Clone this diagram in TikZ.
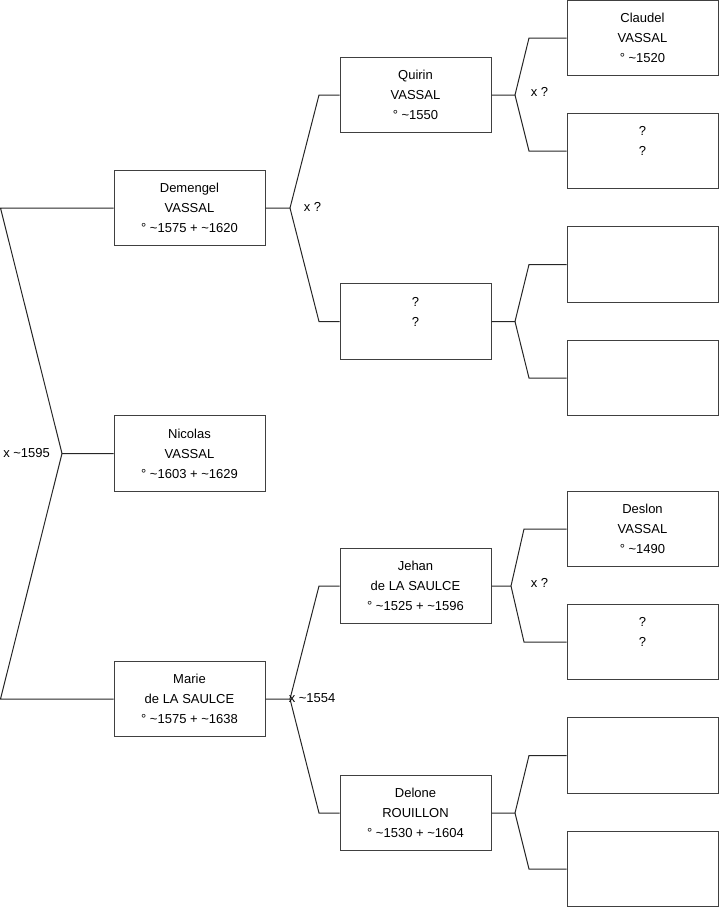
\documentclass[tikz,border=0pt]{standalone}
\usepackage{fontspec}
\setmainfont{Liberation Sans}
\begin{document}
\begin{tikzpicture}[x=0.75pt,y=-0.75pt,
  person/.style={draw=black!75,line width=0.75pt,rectangle,minimum width=113.25pt,minimum height=56.6pt,inner sep=0pt,align=center,font=\fontsize{9.75}{15}\selectfont},
  link/.style={draw=black!85,line width=0.75pt},
  union/.style={font=\fontsize{9.75}{11}\selectfont,inner sep=0pt}]
\useasboundingbox (0,0) rectangle (719,908);
% level 1
\node[person] (nic) at (189.5,453.5) {Nicolas\\VASSAL\\° \textasciitilde1603 + \textasciitilde1629};
% level 2
\node[person] (dem) at (189.5,208) {Demengel\\VASSAL\\° \textasciitilde1575 + \textasciitilde1620};
\node[person] (mar) at (189.5,699) {Marie\\de LA SAULCE\\° \textasciitilde1575 + \textasciitilde1638};
% level 3
\node[person] (qui) at (415.5,95) {Quirin\\VASSAL\\° \textasciitilde1550};
\node[person] (unk) at (415.5,321.5) {?\\?\\\mbox{}};
\node[person] (jeh) at (415.5,586) {Jehan\\de LA SAULCE\\° \textasciitilde1525 + \textasciitilde1596};
\node[person] (del) at (415.5,813) {Delone\\ROUILLON\\° \textasciitilde1530 + \textasciitilde1604};
% level 4
\node[person] (cla) at (642.5,38) {Claudel\\VASSAL\\° \textasciitilde1520};
\node[person] (ua) at (642.5,151) {?\\?\\\mbox{}};
\node[person] (ub) at (642.5,264.5) {};
\node[person] (uc) at (642.5,378) {};
\node[person] (des) at (642.5,529) {Deslon\\VASSAL\\° \textasciitilde1490};
\node[person] (ud) at (642.5,642) {?\\?\\\mbox{}};
\node[person] (ue) at (642.5,755.5) {};
\node[person] (uf) at (642.5,869) {};
% fork points
\coordinate (f1) at (62,453.5);
\coordinate (f1a) at (0.5,208);
\coordinate (f1b) at (0.5,699);
\coordinate (f2) at (290,208);
\coordinate (f2a) at (319,95);
\coordinate (f2b) at (319,321.5);
\coordinate (f3) at (290,699);
\coordinate (f3a) at (319,586);
\coordinate (f3b) at (319,813);
\coordinate (f4) at (515,95);
\coordinate (f4a) at (529,38);
\coordinate (f4b) at (529,151);
\coordinate (f5) at (515,321.5);
\coordinate (f5a) at (529,264.5);
\coordinate (f5b) at (529,378);
\coordinate (f6) at (511,586);
\coordinate (f6a) at (524,529);
\coordinate (f6b) at (524,642);
\coordinate (f7) at (515,813);
\coordinate (f7a) at (529,755.5);
\coordinate (f7b) at (529,869);
% connectors
\draw[link] (nic.west) -- (f1) -- (f1a) -- (dem.west);
\draw[link] (f1) -- (f1b) -- (mar.west);
\draw[link] (dem.east) -- (f2) -- (f2a) -- (qui.west);
\draw[link] (f2) -- (f2b) -- (unk.west);
\draw[link] (mar.east) -- (f3) -- (f3a) -- (jeh.west);
\draw[link] (f3) -- (f3b) -- (del.west);
\draw[link] (qui.east) -- (f4) -- (f4a) -- (cla.west);
\draw[link] (f4) -- (f4b) -- (ua.west);
\draw[link] (unk.east) -- (f5) -- (f5a) -- (ub.west);
\draw[link] (f5) -- (f5b) -- (uc.west);
\draw[link] (jeh.east) -- (f6) -- (f6a) -- (des.west);
\draw[link] (f6) -- (f6b) -- (ud.west);
\draw[link] (del.east) -- (f7) -- (f7a) -- (ue.west);
\draw[link] (f7) -- (f7b) -- (uf.west);
% union labels
\node[union,anchor=west] (u1) at (3,453) {x \textasciitilde1595};
\node[union,anchor=west] (u2) at (303.5,207) {x ?};
\node[union,anchor=west] (u3) at (288.5,698) {x \textasciitilde1554};
\node[union,anchor=west] (u4) at (530.5,92) {x ?};
\node[union,anchor=west] (u5) at (530.5,583) {x ?};
\end{tikzpicture}
\end{document}
